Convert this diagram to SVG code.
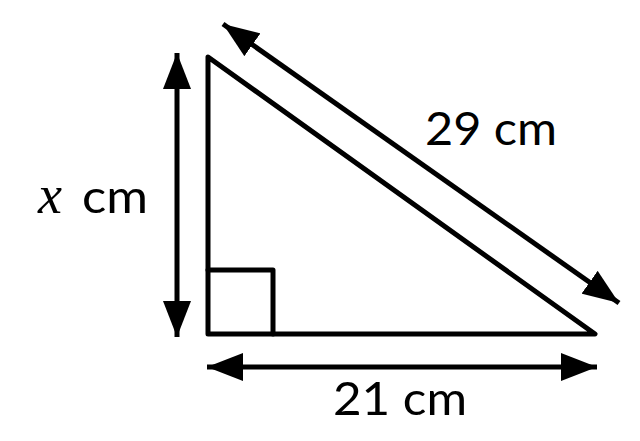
<svg xmlns="http://www.w3.org/2000/svg" width="640" height="441" viewBox="0 0 640 441">
<style>
.ln{fill:none;stroke:#000;stroke-width:5;stroke-linejoin:round;stroke-linecap:round}
.ar{fill:none;stroke:#000;stroke-width:5}
.t{font-family:Lato,"Noto Sans",sans-serif;font-size:47px;fill:#000}
.v{font-family:"Liberation Serif",serif;font-style:italic;font-size:54px;fill:#000}
</style>
<defs>
<marker id="ah" viewBox="0 0 36 28" refX="36" refY="14" markerWidth="36" markerHeight="28" markerUnits="userSpaceOnUse" orient="auto-start-reverse">
<path d="M0,0 L36,14 L0,28 Z" fill="#000"/>
</marker>
</defs>
<rect width="640" height="441" fill="#fff"/>
<g id="triangle">
<path class="ln" d="M208,57 L595,334 L208,334 Z"/>
<path class="ln" d="M208,270 L273,270 L273,334"/>
</g>
<g id="connectors">
<line class="ar" x1="177" y1="53" x2="177" y2="337" marker-start="url(#ah)" marker-end="url(#ah)"/>
<line class="ar" x1="207" y1="367" x2="597" y2="367" marker-start="url(#ah)" marker-end="url(#ah)"/>
<line class="ar" x1="223" y1="24" x2="619" y2="303" marker-start="url(#ah)" marker-end="url(#ah)"/>
</g>
<g id="labels">
<text class="t" x="425" y="145" textLength="132" lengthAdjust="spacingAndGlyphs">29 cm</text>
<text class="t" x="333" y="415" textLength="134" lengthAdjust="spacingAndGlyphs">21 cm</text>
<text class="v" x="38" y="213">x</text>
<text class="t" x="82" y="213" textLength="66" lengthAdjust="spacingAndGlyphs">cm</text>
</g>
</svg>
